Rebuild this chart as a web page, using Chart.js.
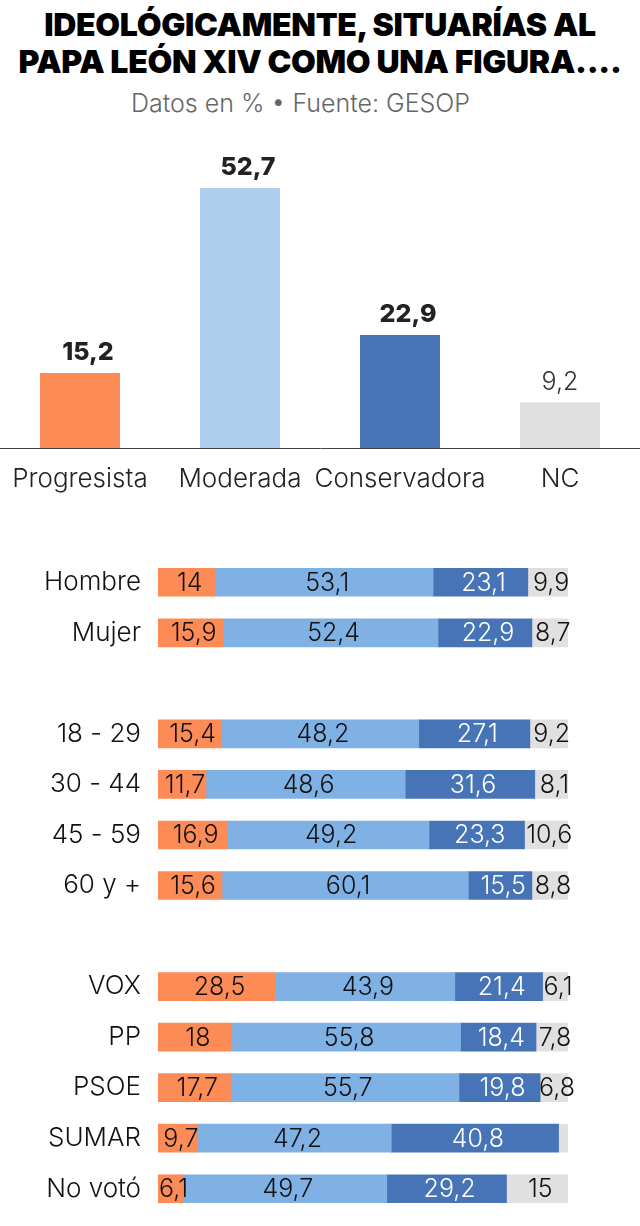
<!DOCTYPE html>
<html>
<head>
<meta charset="utf-8">
<script src="https://cdn.jsdelivr.net/npm/chart.js@4"></script>
<style>
  body { margin: 0; background: #fff; }
  #wrap { position: relative; width: 640px; height: 1226px; overflow: hidden; font-family: Inter, "Noto Sans", sans-serif; }
  h1 { position: absolute; top: 6px; left: 0; width: 640px; margin: 0; text-align: center;
       font-size: 32px; line-height: 37px; font-weight: 900; letter-spacing: -0.3px; color: #000; }
  .sub { position: absolute; top: 88px; left: 0; width: 601px; text-align: center; font-size: 25px; line-height: 30px; color: #666; font-weight: 300; }
  #top { position: absolute; left: 0; top: 130px; }
  #bottom { position: absolute; left: 0; top: 520px; }
</style>
</head>
<body>
<div id="wrap">
  <h1>IDEOLÓGICAMENTE, SITUARÍAS AL<br>PAPA LEÓN XIV COMO UNA FIGURA....</h1>
  <div class="sub">Datos en % • Fuente: GESOP</div>
  <canvas id="top" width="640" height="382"></canvas>
  <canvas id="bottom" width="640" height="706"></canvas>
</div>
<script>
// Overall answer
const totalLabels = ["Progresista", "Moderada", "Conservadora", "NC"];
const totalValues = [15.2, 52.7, 22.9, 9.2];
const totalColors = ["#fc8b56", "#aecdec", "#4674b6", "#e0e0e0"];

// Breakdown by group (empty strings are spacer rows)
const groups = ["Hombre", "Mujer", "", "18 - 29", "30 - 44", "45 - 59", "60 y +", "", "VOX", "PP", "PSOE", "SUMAR", "No votó"];
const progresista = [14, 15.9, null, 15.4, 11.7, 16.9, 15.6, null, 28.5, 18, 17.7, 9.7, 6.1];
const moderada = [53.1, 52.4, null, 48.2, 48.6, 49.2, 60.1, null, 43.9, 55.8, 55.7, 47.2, 49.7];
const conservadora = [23.1, 22.9, null, 27.1, 31.6, 23.3, 15.5, null, 21.4, 18.4, 19.8, 40.8, 29.2];
const nc = [9.9, 8.7, null, 9.2, 8.1, 10.6, 8.8, null, 6.1, 7.8, 6.8, 2.3, 15];

const fmt = v => String(v).replace(".", ",");
const FONT = "Inter, 'Noto Sans', sans-serif";

// labels above the vertical bars
const topLabels = {
  id: "topLabels",
  afterDatasetsDraw(chart) {
    const ctx = chart.ctx;
    const meta = chart.getDatasetMeta(0);
    ctx.save();
    ctx.textAlign = "center";
    ctx.textBaseline = "bottom";
    meta.data.forEach((bar, i) => {
      const last = i === totalValues.length - 1;
      ctx.font = (last ? "300 " : "800 ") + "25px " + FONT;
      ctx.fillStyle = last ? "#333" : "#222";
      ctx.fillText(fmt(totalValues[i]), bar.x + (last ? 0 : 8), bar.y - 8);
    });
    ctx.restore();
  }
};

new Chart(document.getElementById("top"), {
  type: "bar",
  data: {
    labels: totalLabels,
    datasets: [{ data: totalValues, backgroundColor: totalColors, barPercentage: 0.5, categoryPercentage: 1 }]
  },
  options: {
    responsive: false,
    animation: false,
    layout: { padding: { top: 22, bottom: 4 } },
    plugins: { legend: { display: false }, tooltip: { enabled: false } },
    scales: {
      y: { display: false, min: 0, max: 60 },
      x: {
        grid: { display: false },
        border: { display: true, color: "#444", width: 1 },
        afterFit(scale) { scale.height = 60; },
        ticks: { color: "#222", padding: 8, maxRotation: 0, minRotation: 0, autoSkip: false,
                 font: { family: FONT, size: 26, weight: 300 } }
      }
    }
  },
  plugins: [topLabels]
});

// labels inside the stacked segments
const segLabels = {
  id: "segLabels",
  afterDatasetsDraw(chart) {
    const ctx = chart.ctx;
    ctx.save();
    ctx.font = "300 25px " + FONT;
    ctx.textAlign = "center";
    ctx.textBaseline = "middle";
    chart.data.datasets.forEach((ds, d) => {
      const meta = chart.getDatasetMeta(d);
      meta.data.forEach((bar, i) => {
        const v = ds.data[i];
        if (v == null || v < 3) return; // tiny segment (SUMAR NC) has no label
        ctx.fillStyle = d === 2 ? "#fff" : "#111";
        const cx = (bar.x + bar.base) / 2 + 3;
        ctx.fillText(fmt(v), cx, bar.y + 1);
      });
    });
    ctx.restore();
  }
};

const seg = (data, color) => ({ data, backgroundColor: color, barThickness: 28 });

new Chart(document.getElementById("bottom"), {
  type: "bar",
  data: {
    labels: groups,
    datasets: [
      seg(progresista, "#fc8b56"),
      seg(moderada, "#7fb1e4"),
      seg(conservadora, "#4674b6"),
      seg(nc, "#e0e0e0")
    ]
  },
  options: {
    indexAxis: "y",
    responsive: false,
    animation: false,
    layout: { padding: { top: 37, bottom: 12, right: 72 } },
    plugins: { legend: { display: false }, tooltip: { enabled: false } },
    scales: {
      x: { display: false, stacked: true, min: 0, max: 100 },
      y: {
        stacked: true,
        grid: { display: false },
        border: { display: false },
        afterFit(scale) { scale.width = 158; scale.paddingTop = 0; scale.paddingBottom = 0; },
        ticks: { color: "#111", padding: 9, font: { family: FONT, size: 26, weight: 300 } }
      }
    }
  },
  plugins: [segLabels]
});
</script>
</body>
</html>
